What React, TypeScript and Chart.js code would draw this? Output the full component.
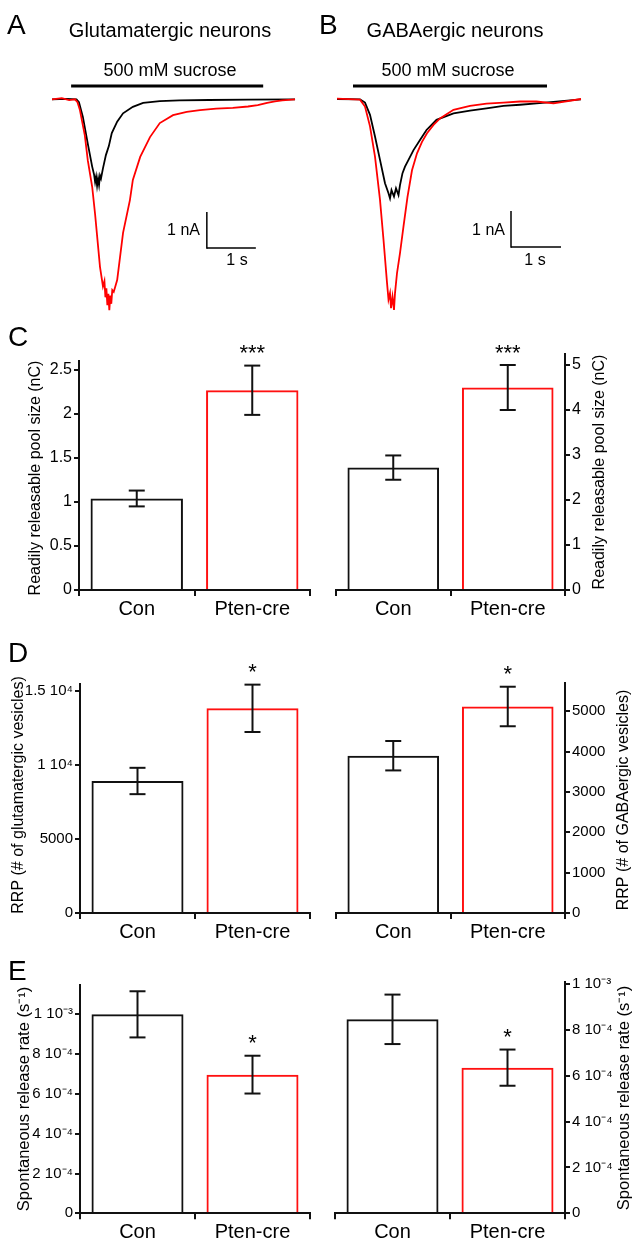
import React, { useEffect, useRef } from 'react';
import { Chart, registerables } from 'chart.js';

Chart.register(...registerables);

const FONT = '"Liberation Sans", Arial, Helvetica, sans-serif';
const BLACK = '#111111';
const RED = '#ff1010';

// ---------- Data ----------
const categories = ['Con', 'Pten-cre'];

// C: readily releasable pool size (nC)
const rrpChargeGlut = [1.04, 2.27];
const rrpChargeGlutSem = [0.09, 0.28];
const rrpChargeGaba = [2.72, 4.5];
const rrpChargeGabaSem = [0.27, 0.5];
const starsC = ['', '***'];
const ticksCGlut = [0, 0.5, 1, 1.5, 2, 2.5];
const ticksCGaba = [0, 1, 2, 3, 4, 5];

// D: RRP (# of vesicles)
const rrpVesGlut = [8920, 13830];
const rrpVesGlutSem = [890, 1600];
const rrpVesGaba = [3900, 5120];
const rrpVesGabaSem = [365, 490];
const starsD = ['', '*'];
const ticksDGlut = [0, 5000, 10000, 15000];
const ticksDGaba = [0, 1000, 2000, 3000, 4000, 5000];

// E: spontaneous release rate (s^-1)
const spontGlut = [1.0e-3, 0.697e-3];
const spontGlutSem = [0.116e-3, 0.095e-3];
const spontGaba = [0.847e-3, 0.636e-3];
const spontGabaSem = [0.108e-3, 0.079e-3];
const starsE = ['', '*'];
const ticksE = [0, 2e-4, 4e-4, 6e-4, 8e-4, 1e-3];

// A: glutamatergic sucrose responses (time s, current nA)
const glutConT = [0, 0.3, 0.5, 0.55, 0.63, 0.73, 0.82, 0.86, 0.88, 0.9, 0.92, 0.94, 0.96, 0.98, 1.0, 1.04, 1.1, 1.16, 1.22, 1.33, 1.45, 1.65, 1.86, 2.2, 2.6, 3.2, 4.0, 4.96];
const glutConI = [0, 0.01, 0, -0.08, -0.49, -1.23, -1.87, -2.1, -2.3, -2.15, -2.4, -2.2, -2.38, -2.12, -2.2, -1.92, -1.55, -1.3, -0.94, -0.62, -0.39, -0.21, -0.1, -0.05, -0.03, -0.02, -0.01, 0];
const glutPtenT = [0, 0.2, 0.35, 0.47, 0.52, 0.57, 0.67, 0.73, 0.82, 0.88, 0.98, 1.04, 1.07, 1.09, 1.11, 1.13, 1.15, 1.17, 1.19, 1.21, 1.23, 1.26, 1.33, 1.45, 1.59, 1.65, 1.8, 2.0, 2.2, 2.47, 2.75, 3.02, 3.35, 3.69, 4.0, 4.2, 4.39, 4.55, 4.7, 4.96];
const glutPtenI = [0, 0.03, -0.02, 0, -0.08, -0.3, -1.0, -1.69, -2.43, -3.2, -4.66, -5.2, -5.05, -5.5, -5.25, -5.72, -5.4, -5.86, -5.45, -5.68, -5.3, -5.35, -5.02, -3.71, -2.8, -2.24, -1.6, -1.05, -0.66, -0.44, -0.35, -0.3, -0.26, -0.24, -0.2, -0.16, -0.1, -0.06, -0.03, 0];

// B: GABAergic sucrose responses (time s, current nA)
const gabaConT = [0, 0.46, 0.56, 0.66, 0.76, 0.86, 0.96, 1.03, 1.06, 1.09, 1.14, 1.18, 1.23, 1.26, 1.31, 1.36, 1.43, 1.53, 1.66, 1.79, 1.99, 2.33, 2.66, 2.99, 3.33, 3.66, 3.99, 4.33, 4.88];
const gabaConI = [0, -0.01, -0.1, -0.44, -1.04, -1.69, -2.34, -2.62, -2.76, -2.53, -2.71, -2.48, -2.67, -2.39, -2.06, -1.88, -1.69, -1.42, -1.14, -0.86, -0.58, -0.4, -0.32, -0.26, -0.19, -0.16, -0.12, -0.08, -0.01];
const gabaPtenT = [0, 0.46, 0.56, 0.66, 0.76, 0.86, 0.93, 1.0, 1.03, 1.06, 1.08, 1.11, 1.14, 1.16, 1.2, 1.26, 1.33, 1.41, 1.5, 1.6, 1.7, 1.8, 1.93, 2.06, 2.33, 2.66, 2.99, 3.33, 3.66, 3.99, 4.33, 4.88];
const gabaPtenI = [0.01, -0.02, -0.21, -0.76, -1.6, -2.8, -3.91, -5.1, -5.57, -5.39, -5.81, -5.49, -5.86, -5.39, -4.84, -4.28, -3.54, -2.72, -1.98, -1.51, -1.19, -0.95, -0.72, -0.54, -0.3, -0.19, -0.13, -0.1, -0.07, -0.07, -0.12, 0];

// ---------- helpers ----------
type Rect = [number, number, number, number];

function drawText(ctx: CanvasRenderingContext2D, s: string, x: number, y: number, size: number, align: CanvasTextAlign = 'left', baseline: CanvasTextBaseline = 'alphabetic', rot = 0) {
  ctx.save();
  ctx.font = `${size}px ${FONT}`;
  ctx.fillStyle = '#000';
  ctx.textAlign = align;
  ctx.textBaseline = baseline;
  ctx.translate(x, y);
  if (rot) ctx.rotate(rot);
  ctx.fillText(s, 0, 0);
  ctx.restore();
}

function line(ctx: CanvasRenderingContext2D, x1: number, y1: number, x2: number, y2: number, w: number, c = '#000') {
  ctx.save();
  ctx.strokeStyle = c;
  ctx.lineWidth = w;
  ctx.lineCap = 'butt';
  ctx.beginPath();
  ctx.moveTo(x1, y1);
  ctx.lineTo(x2, y2);
  ctx.stroke();
  ctx.restore();
}

type TraceSpec = {
  rect: Rect;
  area: [number, number, number, number];
  conT: number[]; conI: number[]; ptenT: number[]; ptenI: number[];
  letter: string; letterPos: [number, number];
  title: string; titlePos: [number, number];
  sucrosePos: [number, number]; sucroseT: [number, number]; sucroseI: number;
  scaleT: number; scaleI: number; nAPos: [number, number]; sPos: [number, number];
};

function traceConfig(s: TraceSpec): any {
  const [x0, y0, w, h] = s.rect;
  const [L, T, R, B] = s.area;
  const plugin = {
    id: 'traceAnno',
    afterDraw(chart: any) {
      const ctx = chart.ctx as CanvasRenderingContext2D;
      const xs = chart.scales.x, ys = chart.scales.y;
      drawText(ctx, s.letter, s.letterPos[0] - x0, s.letterPos[1] - y0, 28);
      drawText(ctx, s.title, s.titlePos[0] - x0, s.titlePos[1] - y0, 20, 'center');
      drawText(ctx, '500 mM sucrose', s.sucrosePos[0] - x0, s.sucrosePos[1] - y0, 18, 'center');
      const sy = ys.getPixelForValue(s.sucroseI);
      line(ctx, xs.getPixelForValue(s.sucroseT[0]), sy, xs.getPixelForValue(s.sucroseT[1]), sy, 3);
      const bx = xs.getPixelForValue(s.scaleT);
      const by1 = ys.getPixelForValue(s.scaleI);
      const by2 = ys.getPixelForValue(s.scaleI - 1);
      const bx2 = xs.getPixelForValue(s.scaleT + 1);
      line(ctx, bx, by1, bx, by2 + 0.75, 1.5);
      line(ctx, bx, by2, bx2, by2, 1.5);
      drawText(ctx, '1 nA', s.nAPos[0] - x0, s.nAPos[1] - y0, 16, 'right');
      drawText(ctx, '1 s', s.sPos[0] - x0, s.sPos[1] - y0, 16, 'center');
    },
  };
  return {
    type: 'line',
    data: {
      datasets: [
        { data: s.ptenT.map((t, k) => ({ x: t, y: s.ptenI[k] })), borderColor: '#ff0000', borderWidth: 1.8, pointRadius: 0, tension: 0, fill: false },
        { data: s.conT.map((t, k) => ({ x: t, y: s.conI[k] })), borderColor: '#000', borderWidth: 1.8, pointRadius: 0, tension: 0, fill: false },
      ],
    },
    options: {
      responsive: false,
      animation: false,
      events: [],
      layout: { padding: { left: L - x0, right: x0 + w - R, top: T - y0, bottom: y0 + h - B } },
      scales: {
        x: { type: 'linear', display: false, min: 0, max: 5 },
        y: { type: 'linear', display: false, min: -6, max: 0.6 },
      },
      plugins: { legend: { display: false }, tooltip: { enabled: false } },
    },
    plugins: [plugin],
  };
}

type BarSpec = {
  rect: Rect;
  area: [number, number, number, number];
  side: 'left' | 'right';
  values: number[]; sem: number[]; stars: string[];
  yMax: number; ticks: number[]; tickSize: number;
  fmt: (v: number) => string;
  title: string; titleSize: number; titlePos: [number, number];
  letter?: string; letterPos?: [number, number];
};

function barConfig(s: BarSpec): any {
  const [x0, y0, w, h] = s.rect;
  const [L, T, R, B] = s.area;
  const right = s.side === 'right';
  const yAxisW = right ? x0 + w - R : L - x0;
  const xAxisH = y0 + h - B;
  const padding = right
    ? { left: L - x0, right: 0, top: T - y0, bottom: 0 }
    : { left: 0, right: x0 + w - R, top: T - y0, bottom: 0 };
  const plugin = {
    id: 'barAnno',
    afterDatasetsDraw(chart: any) {
      const ctx = chart.ctx as CanvasRenderingContext2D;
      const ys = chart.scales.y;
      const meta = chart.getDatasetMeta(0);
      s.values.forEach((v, i) => {
        const x = meta.data[i].x;
        const hi = ys.getPixelForValue(v + s.sem[i]);
        const lo = ys.getPixelForValue(v - s.sem[i]);
        line(ctx, x, hi, x, lo, 2, BLACK);
        line(ctx, x - 8, hi, x + 8, hi, 2, BLACK);
        line(ctx, x - 8, lo, x + 8, lo, 2, BLACK);
        if (s.stars[i]) {
          const fs = 22;
          drawText(ctx, s.stars[i], x, hi - 18 + 0.57 * fs, fs, 'center');
        }
      });
      drawText(ctx, s.title, s.titlePos[0] - x0, s.titlePos[1] - y0, s.titleSize, 'center', 'middle', -Math.PI / 2);
      if (s.letter && s.letterPos) drawText(ctx, s.letter, s.letterPos[0] - x0, s.letterPos[1] - y0, 28);
    },
  };
  return {
    type: 'bar',
    data: {
      labels: categories,
      datasets: [
        {
          data: s.values,
          backgroundColor: 'rgba(255,255,255,0)',
          borderColor: [BLACK, RED],
          borderWidth: 2,
          borderSkipped: 'start',
          barPercentage: 0.8,
          categoryPercentage: 1.0,
        },
      ],
    },
    options: {
      responsive: false,
      animation: false,
      events: [],
      layout: { padding },
      scales: {
        x: {
          type: 'category',
          position: 'bottom',
          offset: true,
          grid: { display: true, offset: true, drawOnChartArea: false, drawTicks: true, tickLength: 6, color: BLACK, lineWidth: 2 },
          border: { display: true, color: BLACK, width: 2 },
          ticks: { color: '#000', font: { family: FONT, size: 20 }, padding: 1, maxRotation: 0, autoSkip: false },
          afterFit: (sc: any) => { sc.height = xAxisH; },
        },
        y: {
          type: 'linear',
          position: right ? 'right' : 'left',
          min: 0,
          max: s.yMax,
          grid: { display: true, drawOnChartArea: false, drawTicks: true, tickLength: 5, color: BLACK, lineWidth: 2 },
          border: { display: true, color: BLACK, width: 2 },
          afterBuildTicks: (sc: any) => { sc.ticks = s.ticks.map((v) => ({ value: v })); },
          ticks: {
            autoSkip: false,
            color: '#000',
            font: { family: FONT, size: s.tickSize },
            padding: 2,
            callback: (v: number) => s.fmt(v),
          },
          afterFit: (sc: any) => { sc.width = yAxisW; },
        },
      },
      plugins: { legend: { display: false }, tooltip: { enabled: false } },
    },
    plugins: [plugin],
  };
}

const fmtC = (v: number) => String(Math.round(v * 10) / 10);
const fmtDGlut = (v: number) => (v >= 10000 ? `${Math.round(v / 1000) / 10} 10\u2074` : String(Math.round(v)));
const fmtDGaba = (v: number) => String(Math.round(v));
const fmtE = (v: number) => {
  const n = Math.round(v * 1e4);
  if (n === 0) return '0';
  if (n >= 10) return `${n / 10} 10\u207B\u00B3`;
  return `${n} 10\u207B\u2074`;
};

const TITLE_C = 'Readily releasable pool size (nC)';
const TITLE_E = 'Spontaneous release rate (s\u207B\u00B9)';

const traceA: TraceSpec = {
  rect: [0, 0, 316, 320], area: [52, 77.7, 297, 315.3],
  conT: glutConT, conI: glutConI, ptenT: glutPtenT, ptenI: glutPtenI,
  letter: 'A', letterPos: [7, 33.5], title: 'Glutamatergic neurons', titlePos: [170, 37],
  sucrosePos: [170, 76], sucroseT: [0.39, 4.31], sucroseI: 0.37,
  scaleT: 3.16, scaleI: -3.13, nAPos: [200, 235], sPos: [237, 265],
};
const traceB: TraceSpec = {
  rect: [316, 0, 317, 320], area: [337, 77.4, 587, 315],
  conT: gabaConT, conI: gabaConI, ptenT: gabaPtenT, ptenI: gabaPtenI,
  letter: 'B', letterPos: [319, 33.5], title: 'GABAergic neurons', titlePos: [455, 37],
  sucrosePos: [448, 76], sucroseT: [0.32, 4.2], sucroseI: 0.36,
  scaleT: 3.48, scaleI: -3.11, nAPos: [505, 235], sPos: [535, 265],
};

const barSpecs: BarSpec[] = [
  { rect: [0, 318, 316, 300], area: [79, 361.2, 310, 590], side: 'left', values: rrpChargeGlut, sem: rrpChargeGlutSem, stars: starsC, yMax: 2.6, ticks: ticksCGlut, tickSize: 16, fmt: fmtC, title: TITLE_C, titleSize: 16, titlePos: [36, 478], letter: 'C', letterPos: [8, 345.5] },
  { rect: [316, 318, 317, 300], area: [336, 353.75, 565, 590], side: 'right', values: rrpChargeGaba, sem: rrpChargeGabaSem, stars: starsC, yMax: 5.25, ticks: ticksCGaba, tickSize: 16, fmt: fmtC, title: TITLE_C, titleSize: 16, titlePos: [600, 472] },
  { rect: [0, 615, 316, 330], area: [80, 683.6, 310, 913], side: 'left', values: rrpVesGlut, sem: rrpVesGlutSem, stars: starsD, yMax: 15500, ticks: ticksDGlut, tickSize: 15, fmt: fmtDGlut, title: 'RRP (# of glutamatergic vesicles)', titleSize: 16, titlePos: [19, 795], letter: 'D', letterPos: [8, 662] },
  { rect: [316, 615, 317, 330], area: [336, 683.1, 565, 913], side: 'right', values: rrpVesGaba, sem: rrpVesGabaSem, stars: starsD, yMax: 5700, ticks: ticksDGaba, tickSize: 15, fmt: fmtDGaba, title: 'RRP (# of GABAergic vesicles)', titleSize: 16, titlePos: [624, 800] },
  { rect: [0, 940, 316, 303], area: [80, 984.5, 310, 1213.3], side: 'left', values: spontGlut, sem: spontGlutSem, stars: starsE, yMax: 1.15e-3, ticks: ticksE, tickSize: 15, fmt: fmtE, title: TITLE_E, titleSize: 16.5, titlePos: [24, 1099], letter: 'E', letterPos: [8, 980] },
  { rect: [316, 940, 317, 303], area: [335, 982, 565, 1213.3], side: 'right', values: spontGaba, sem: spontGabaSem, stars: starsE, yMax: 1.01e-3, ticks: ticksE, tickSize: 15, fmt: fmtE, title: TITLE_E, titleSize: 16.5, titlePos: [624, 1098] },
];

function ChartBox({ rect, make }: { rect: Rect; make: () => any }) {
  const ref = useRef<HTMLCanvasElement>(null);
  useEffect(() => {
    const chart = new Chart(ref.current as HTMLCanvasElement, make());
    return () => chart.destroy();
  }, []);
  return (
    <canvas
      ref={ref}
      width={rect[2]}
      height={rect[3]}
      style={{ position: 'absolute', left: rect[0], top: rect[1], width: rect[2], height: rect[3] }}
    />
  );
}

export default function App() {
  return (
    <div style={{ position: 'absolute', left: 0, top: 0, width: 633, height: 1243, background: '#fff', overflow: 'hidden' }}>
      <ChartBox rect={traceA.rect} make={() => traceConfig(traceA)} />
      <ChartBox rect={traceB.rect} make={() => traceConfig(traceB)} />
      {barSpecs.map((s, i) => (
        <ChartBox key={i} rect={s.rect} make={() => barConfig(s)} />
      ))}
    </div>
  );
}
